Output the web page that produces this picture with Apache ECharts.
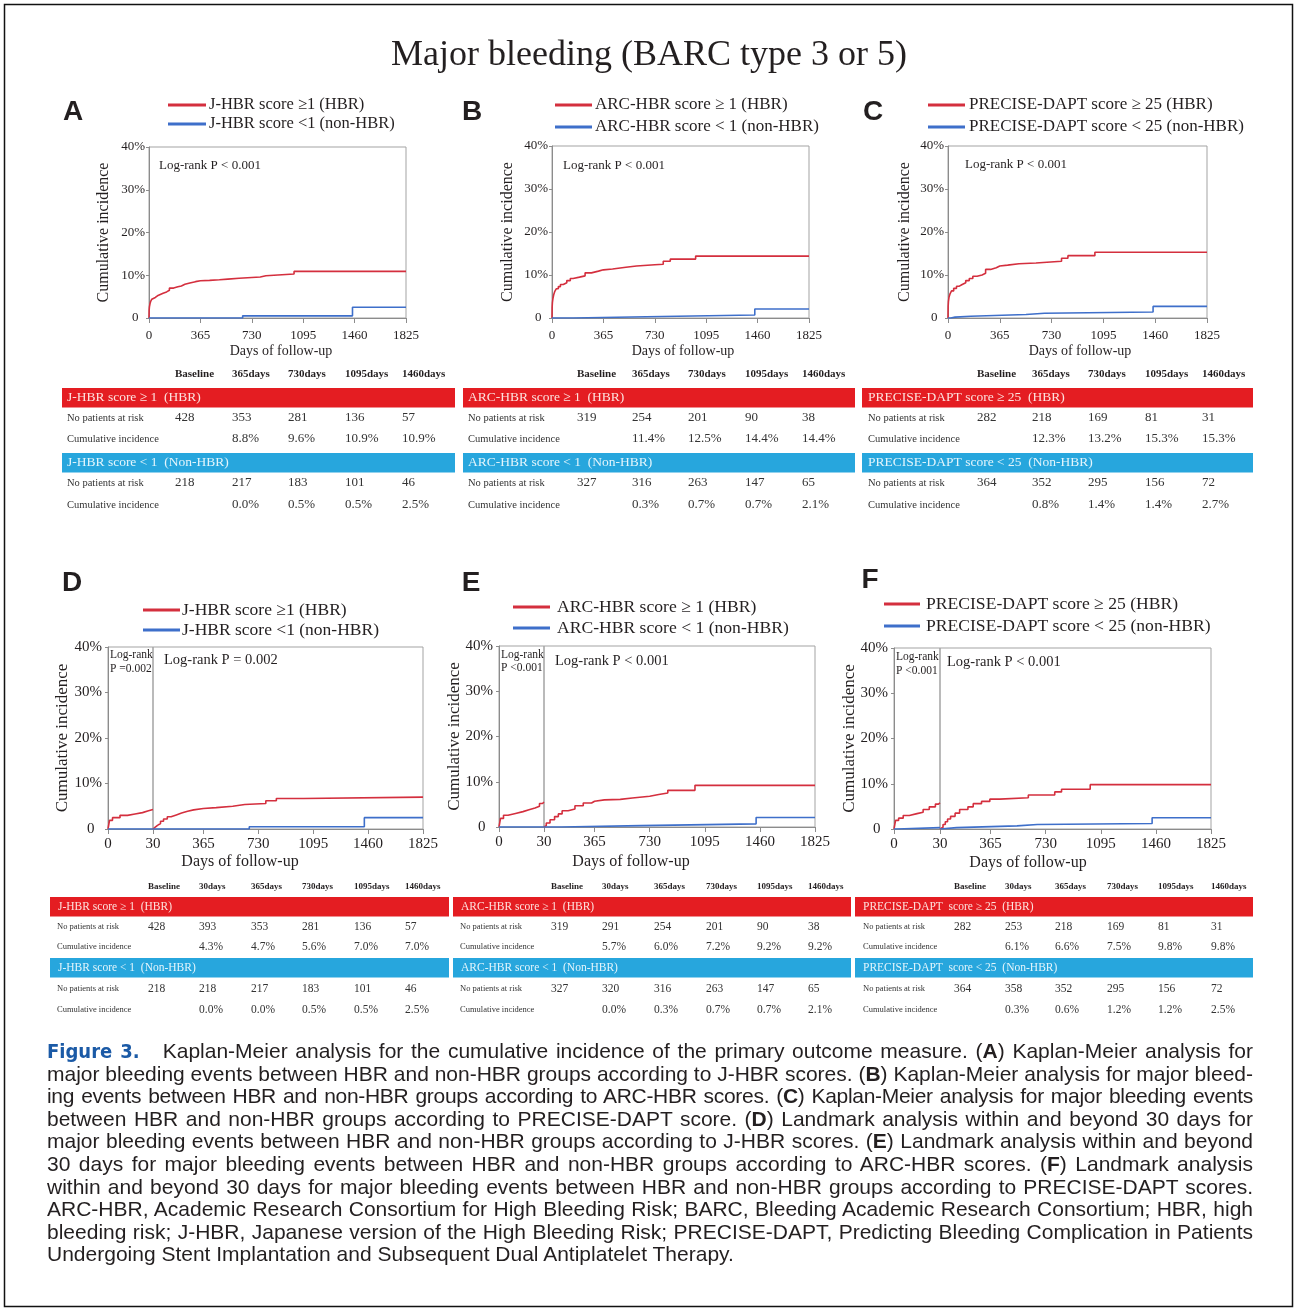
<!DOCTYPE html>
<html><head><meta charset="utf-8">
<script src="https://cdn.jsdelivr.net/npm/echarts@6/dist/echarts.min.js"></script>
<style>
html,body{margin:0;padding:0;background:#fff;}
#wrap{position:relative;width:1297px;height:1311px;overflow:hidden;}
#chart{position:absolute;left:0;top:0;width:1297px;height:1311px;}
#caption{position:absolute;left:47px;top:1040px;width:1206px;font-family:"Liberation Sans",Arial,sans-serif;font-size:21px;line-height:22.6px;color:#231f20;}
#caption div{text-align:justify;text-align-last:justify;height:22.6px;}
#caption div.tight{letter-spacing:-0.3px;word-spacing:-2px;}
#caption div.last{text-align:left;text-align-last:left;}
#caption .fig{font-family:"Liberation Sans Narrow","DejaVu Sans Condensed","Arial Narrow",sans-serif;font-weight:bold;color:#1b5aa6;font-size:20px;}
#caption b{font-weight:bold;}
</style></head>
<body>
<div id="wrap">
<div id="chart"></div>
<div id="caption">
<div><span class="fig">Figure 3.</span>&nbsp;&nbsp; Kaplan-Meier analysis for the cumulative incidence of the primary outcome measure. (<b>A</b>) Kaplan-Meier analysis for</div>
<div>major bleeding events between HBR and non-HBR groups according to J-HBR scores. (<b>B</b>) Kaplan-Meier analysis for major bleed-</div>
<div class="tight">ing events between HBR and non-HBR groups according to ARC-HBR scores. (<b>C</b>) Kaplan-Meier analysis for major bleeding events</div>
<div>between HBR and non-HBR groups according to PRECISE-DAPT score. (<b>D</b>) Landmark analysis within and beyond 30 days for</div>
<div>major bleeding events between HBR and non-HBR groups according to J-HBR scores. (<b>E</b>) Landmark analysis within and beyond</div>
<div>30 days for major bleeding events between HBR and non-HBR groups according to ARC-HBR scores. (<b>F</b>) Landmark analysis</div>
<div>within and beyond 30 days for major bleeding events between HBR and non-HBR groups according to PRECISE-DAPT scores.</div>
<div>ARC-HBR, Academic Research Consortium for High Bleeding Risk; BARC, Bleeding Academic Research Consortium; HBR, high</div>
<div>bleeding risk; J-HBR, Japanese version of the High Bleeding Risk; PRECISE-DAPT, Predicting Bleeding Complication in Patients</div>
<div class="last">Undergoing Stent Implantation and Subsequent Dual Antiplatelet Therapy.</div>
</div>
</div>
<script>
// ---------------- DATA ----------------
const TITLE = 'Major bleeding (BARC type 3 or 5)';
const PANEL_LETTERS = ['A','B','C','D','E','F'];
const X_TICKS_FULL = [0, 365, 730, 1095, 1460, 1825];
const X_TICKS_EARLY = [0];
const X_TICKS_LATE = [30, 365, 730, 1095, 1460, 1825];
const Y_AXIS_NAME = 'Cumulative incidence';
const X_AXIS_NAME = 'Days of follow-up';

const LEG_A = ['J-HBR score \u22651 (HBR)', 'J-HBR score <1 (non-HBR)'];
const LEG_B = ['ARC-HBR score \u2265 1 (HBR)', 'ARC-HBR score < 1 (non-HBR)'];
const LEG_C = ['PRECISE-DAPT score \u2265 25 (HBR)', 'PRECISE-DAPT score < 25 (non-HBR)'];

const P_A = 'Log-rank P < 0.001';
const P_B = 'Log-rank P < 0.001';
const P_C = 'Log-rank P < 0.001';
const P_D_EARLY = ['Log-rank', 'P =0.002'];
const P_D_LATE = 'Log-rank P = 0.002';
const P_E_EARLY = ['Log-rank', 'P <0.001'];
const P_E_LATE = 'Log-rank P < 0.001';
const P_F_EARLY = ['Log-rank', 'P <0.001'];
const P_F_LATE = 'Log-rank P < 0.001';

// Kaplan-Meier curves: [day, cumulative incidence %]
const A_HBR = [[0,0],[1,1.8],[3,2.6],[7,3.3],[12,3.9],[20,4.4],[30,4.8],[45,5.2],[60,5.5],[80,5.8],[100,6.1],[125,6.5],[145,7.0],[175,7.3],[205,7.5],[230,7.9],[255,8.2],[290,8.5],[330,8.7],[365,8.8],[430,8.95],[500,9.1],[560,9.3],[640,9.6],[790,9.9],[830,10.3],[1030,10.9],[1825,10.9]];
const A_NON = [[0,0],[665,0.5],[1445,2.5],[1825,2.5]];
const B_HBR = [[0,0],[1,2.5],[3,3.6],[7,4.6],[12,5.4],[20,6.2],[30,6.8],[45,7.3],[60,7.8],[80,8.2],[105,8.7],[130,9.2],[150,9.5],[195,9.8],[235,10.5],[280,10.9],[330,11.2],[365,11.4],[430,11.8],[525,12.1],[600,12.4],[730,12.5],[790,13.2],[840,13.7],[1020,14.4],[1825,14.4]];
const B_NON = [[0,0],[150,0.3],[670,0.7],[1440,2.1],[1825,2.1]];
const C_HBR = [[0,0],[1,2.6],[3,3.8],[7,4.8],[14,5.6],[25,6.3],[40,6.9],[60,7.4],[80,7.8],[100,8.2],[125,8.7],[150,9.2],[175,9.7],[205,10.0],[240,10.4],[265,11.3],[300,11.7],[340,12.1],[365,12.3],[420,12.6],[500,12.8],[620,13.2],[800,13.9],[845,14.5],[1035,15.3],[1825,15.3]];
const C_NON = [[0,0],[20,0.2],[50,0.4],[160,0.8],[550,1.1],[680,1.4],[1445,2.7],[1825,2.7]];

const D_HBR_EARLY = [[0,0],[1,1.9],[3,2.5],[8,3.0],[13,3.3],[18,3.6],[23,4.0],[27,4.3],[30,4.3]];
const D_NON_EARLY = [[0,0],[30,0]];
const D_HBR_LATE = [[30,0],[33,0.4],[45,0.8],[60,1.2],[80,1.7],[100,2.2],[125,2.7],[150,3.1],[185,3.5],[220,3.9],[260,4.2],[300,4.5],[365,4.7],[450,5.0],[560,5.4],[640,5.6],[780,6.2],[850,6.7],[1030,7.0],[1825,7.0]];
const D_NON_LATE = [[30,0],[670,0.5],[1435,2.5],[1825,2.5]];
const E_HBR_EARLY = [[0,0],[1,1.9],[3,2.6],[6,3.0],[11,3.4],[16,3.8],[20,4.2],[24,4.6],[27,5.2],[29,5.5],[30,5.5]];
const E_NON_EARLY = [[0,0],[30,0]];
const E_HBR_LATE = [[30,0],[33,0.3],[45,0.9],[70,1.6],[100,2.3],[125,2.9],[150,3.6],[190,4.0],[235,4.7],[290,5.3],[345,5.7],[365,6.0],[430,6.1],[535,6.4],[615,6.8],[730,7.2],[790,7.5],[850,8.1],[1030,9.2],[1825,9.2]];
const E_NON_LATE = [[30,0],[145,0.3],[670,0.7],[1435,2.1],[1825,2.1]];
const F_HBR_EARLY = [[0,0],[1,1.9],[3,2.4],[6,3.0],[10,3.4],[15,3.7],[19,4.3],[23,4.9],[27,5.5],[29,5.8],[30,5.8]];
const F_NON_EARLY = [[0,0],[2,0.3],[30,0.3]];
const F_HBR_LATE = [[30,0],[33,0.4],[50,1.0],[65,1.6],[80,2.2],[100,2.8],[130,3.5],[160,4.3],[215,4.9],[250,5.6],[305,6.1],[360,6.6],[425,6.9],[615,7.5],[790,8.2],[835,8.8],[1025,9.8],[1825,9.8]];
const F_NON_LATE = [[30,0],[40,0.3],[140,0.7],[540,1.0],[675,1.2],[1435,2.5],[1825,2.5]];

// Risk tables
const COLS_TOP = ['Baseline', '365days', '730days', '1095days', '1460days'];
const COLS_LM = ['Baseline', '30days', '365days', '730days', '1095days', '1460days'];
const ROW_LABELS = ['No patients at risk', 'Cumulative incidence'];

const TA_HBR_NAME = 'J-HBR score \u2265 1  (HBR)';
const TA_HBR_RISK = [428, 353, 281, 136, 57];
const TA_HBR_INC = ['8.8%', '9.6%', '10.9%', '10.9%'];
const TA_NON_NAME = 'J-HBR score < 1  (Non-HBR)';
const TA_NON_RISK = [218, 217, 183, 101, 46];
const TA_NON_INC = ['0.0%', '0.5%', '0.5%', '2.5%'];

const TB_HBR_NAME = 'ARC-HBR score \u2265 1  (HBR)';
const TB_HBR_RISK = [319, 254, 201, 90, 38];
const TB_HBR_INC = ['11.4%', '12.5%', '14.4%', '14.4%'];
const TB_NON_NAME = 'ARC-HBR score < 1  (Non-HBR)';
const TB_NON_RISK = [327, 316, 263, 147, 65];
const TB_NON_INC = ['0.3%', '0.7%', '0.7%', '2.1%'];

const TC_HBR_NAME = 'PRECISE-DAPT score \u2265 25  (HBR)';
const TC_HBR_RISK = [282, 218, 169, 81, 31];
const TC_HBR_INC = ['12.3%', '13.2%', '15.3%', '15.3%'];
const TC_NON_NAME = 'PRECISE-DAPT score < 25  (Non-HBR)';
const TC_NON_RISK = [364, 352, 295, 156, 72];
const TC_NON_INC = ['0.8%', '1.4%', '1.4%', '2.7%'];

const TD_HBR_NAME = 'J-HBR score \u2265 1  (HBR)';
const TD_HBR_RISK = [428, 393, 353, 281, 136, 57];
const TD_HBR_INC = ['4.3%', '4.7%', '5.6%', '7.0%', '7.0%'];
const TD_NON_NAME = 'J-HBR score < 1  (Non-HBR)';
const TD_NON_RISK = [218, 218, 217, 183, 101, 46];
const TD_NON_INC = ['0.0%', '0.0%', '0.5%', '0.5%', '2.5%'];

const TE_HBR_NAME = 'ARC-HBR score \u2265 1  (HBR)';
const TE_HBR_RISK = [319, 291, 254, 201, 90, 38];
const TE_HBR_INC = ['5.7%', '6.0%', '7.2%', '9.2%', '9.2%'];
const TE_NON_NAME = 'ARC-HBR score < 1  (Non-HBR)';
const TE_NON_RISK = [327, 320, 316, 263, 147, 65];
const TE_NON_INC = ['0.0%', '0.3%', '0.7%', '0.7%', '2.1%'];

const TF_HBR_NAME = 'PRECISE-DAPT  score \u2265 25  (HBR)';
const TF_HBR_RISK = [282, 253, 218, 169, 81, 31];
const TF_HBR_INC = ['6.1%', '6.6%', '7.5%', '9.8%', '9.8%'];
const TF_NON_NAME = 'PRECISE-DAPT  score < 25  (Non-HBR)';
const TF_NON_RISK = [364, 358, 352, 295, 156, 72];
const TF_NON_INC = ['0.3%', '0.6%', '1.2%', '1.2%', '2.5%'];

// ---------------- RENDERING ----------------
const SERIF = '"Liberation Serif","Times New Roman",serif';
const SANS = '"Liberation Sans",Arial,sans-serif';
const RED = '#d42f3e', BLUE = '#3e6fca', AXIS = '#8c8c8c', TXT = '#231f20';
const BAND_RED = '#e41d22', BAND_BLUE = '#27a6dd';

const grids = [], xAxes = [], yAxes = [], series = [], graphics = [];

function panel(g, xmin, xmax, xt, showY, fs, xm, ym) {
  grids.push({left: g.l, top: g.t, width: g.w, height: g.h, show: true,
    borderColor: '#a3a3a3', borderWidth: 1, backgroundColor: 'rgba(0,0,0,0)'});
  const gi = grids.length - 1;
  xAxes.push({gridIndex: gi, type: 'value', min: xmin, max: xmax,
    axisLine: {show: true, onZero: false, lineStyle: {color: AXIS, width: 1}},
    axisTick: {show: true, length: 5, customValues: xt, lineStyle: {color: AXIS}},
    axisLabel: {show: true, customValues: xt, margin: xm, fontFamily: SERIF, fontSize: fs, color: TXT,
      formatter: v => String(v)},
    splitLine: {show: false}});
  yAxes.push({gridIndex: gi, type: 'value', min: 0, max: 40, interval: 10, show: showY,
    axisLine: {show: true, lineStyle: {color: AXIS}},
    axisTick: {show: true, length: 3, lineStyle: {color: AXIS}},
    axisLabel: {margin: ym, fontFamily: SERIF, fontSize: fs, color: TXT,
      formatter: v => v === 0 ? '0  ' : v + '%'},
    splitLine: {show: false}});
  return gi;
}
function curve(gi, data, color, name) {
  series.push({type: 'line', name, xAxisIndex: gi, yAxisIndex: gi, data, step: 'end',
    showSymbol: false, symbol: 'none', lineStyle: {color, width: 1.6}, itemStyle: {color},
    animation: false, silent: true, clip: true});
}
function txt(x, y, text, font, o) {
  o = o || {};
  graphics.push({type: 'text', x, y, rotation: o.rot || 0, silent: true, z: 10,
    style: {text, font, fill: o.fill || TXT, textAlign: o.align || 'left', textVerticalAlign: o.valign || 'middle'}});
}
function line(x1, y1, x2, y2, color, w) {
  graphics.push({type: 'line', silent: true, z: 10, shape: {x1, y1, x2, y2}, style: {stroke: color, lineWidth: w}});
}
function rect(x, y, w, h, fill) {
  graphics.push({type: 'rect', silent: true, z: 5, shape: {x, y, width: w, height: h}, style: {fill}});
}
function legend(names, lx1, lx2, tx, y1, y2, fs) {
  line(lx1, y1, lx2, y1, RED, 3); line(lx1, y2, lx2, y2, BLUE, 3);
  txt(tx, y1, names[0], fs + 'px ' + SERIF);
  txt(tx, y2, names[1], fs + 'px ' + SERIF);
}
function table(L, cols, hName, hRisk, hInc, nName, nRisk, nInc, F) {
  cols.forEach((c, i) => txt(L.cx[i], L.head, c, 'bold ' + F.head + 'px ' + SERIF));
  rect(L.bx, L.b1, L.bw, L.bh, BAND_RED);
  txt(L.tx, L.b1 + L.bh / 2, hName, F.band + 'px ' + SERIF, {fill: '#fde2de'});
  rect(L.bx, L.b2, L.bw, L.bh, BAND_BLUE);
  txt(L.tx, L.b2 + L.bh / 2, nName, F.band + 'px ' + SERIF, {fill: '#e3f5fc'});
  const rows = [[L.r1, hRisk, 0], [L.r2, hInc, 1], [L.r3, nRisk, 0], [L.r4, nInc, 1]];
  rows.forEach(([y, vals, k]) => {
    txt(L.lx, y, ROW_LABELS[k], F.label + 'px ' + SERIF, {fill: '#333'});
    vals.forEach((v, i) => txt(L.cx[i + k], y, String(v), F.val + 'px ' + SERIF, {fill: '#333'}));
  });
}

// Title and frame
graphics.push({type: 'rect', silent: true, shape: {x: 4.5, y: 4.5, width: 1288, height: 1302},
  style: {fill: 'none', stroke: '#111', lineWidth: 1.5}});
txt(649, 56, TITLE, '36px ' + SERIF, {align: 'center'});

// Panel letters
const LET_POS = [[73,112],[472,112],[873,112],[72,583],[471,583],[870,580]];
PANEL_LETTERS.forEach((t, i) => txt(LET_POS[i][0], LET_POS[i][1], t, 'bold 28px ' + SANS, {align: 'center'}));

// ---- Top row (A, B, C)
const topPanels = [
  {g: {l: 149, t: 147, w: 257, h: 171}, hbr: A_HBR, non: A_NON, leg: LEG_A, p: P_A, px: 159, py: 166, yn: 104, xn: 281,
   lg: [168, 206, 209, 105, 124], lf: 16.5},
  {g: {l: 552, t: 146, w: 257, h: 172}, hbr: B_HBR, non: B_NON, leg: LEG_B, p: P_B, px: 563, py: 166, yn: 508, xn: 683,
   lg: [555, 592, 595, 105, 127], lf: 17},
  {g: {l: 948, t: 146, w: 259, h: 172}, hbr: C_HBR, non: C_NON, leg: LEG_C, p: P_C, px: 965, py: 165, yn: 905, xn: 1080,
   lg: [928, 965, 969, 105, 127], lf: 17}
];
topPanels.forEach(P => {
  const gi = panel(P.g, 0, 1825, X_TICKS_FULL, true, 13, 11, 4);
  curve(gi, P.hbr, RED, P.leg[0]);
  curve(gi, P.non, BLUE, P.leg[1]);
  legend(P.leg, P.lg[0], P.lg[1], P.lg[2], P.lg[3], P.lg[4], P.lf);
  txt(P.px, P.py, P.p, '13px ' + SERIF);
  txt(P.yn, P.g.t + P.g.h / 2, Y_AXIS_NAME, '16px ' + SERIF, {align: 'center', rot: Math.PI / 2});
  txt(P.xn, 351, X_AXIS_NAME, '14px ' + SERIF, {align: 'center'});
});

// ---- Bottom row (D, E, F) landmark panels
const lmPanels = [
  {x0: 108, x30: 153, x1: 423, t: 647, b: 829, he: D_HBR_EARLY, ne: D_NON_EARLY, hl: D_HBR_LATE, nl: D_NON_LATE,
   leg: LEG_A, pe: P_D_EARLY, pl: P_D_LATE, pex: 110, pey: [655, 669], plx: 164, ply: 660, yn: 63, xn: 240, xny: 862,
   lg: [143, 180, 182, 610, 630], lf: 17.5},
  {x0: 499, x30: 544, x1: 815, t: 646, b: 827, he: E_HBR_EARLY, ne: E_NON_EARLY, hl: E_HBR_LATE, nl: E_NON_LATE,
   leg: LEG_B, pe: P_E_EARLY, pl: P_E_LATE, pex: 501, pey: [655, 668], plx: 555, ply: 661, yn: 455, xn: 631, xny: 862,
   lg: [513, 550, 557, 607, 628], lf: 17.6},
  {x0: 894, x30: 940, x1: 1211, t: 648, b: 829, he: F_HBR_EARLY, ne: F_NON_EARLY, hl: F_HBR_LATE, nl: F_NON_LATE,
   leg: LEG_C, pe: P_F_EARLY, pl: P_F_LATE, pex: 896, pey: [657, 671], plx: 947, ply: 662, yn: 850, xn: 1028, xny: 863,
   lg: [884, 920, 926, 604, 626], lf: 17.6}
];
lmPanels.forEach(P => {
  const h = P.b - P.t;
  const ge = panel({l: P.x0, t: P.t, w: P.x30 - P.x0, h}, 0, 30, X_TICKS_EARLY, true, 15, 8, 6);
  const gl = panel({l: P.x30, t: P.t, w: P.x1 - P.x30, h}, 30, 1825, X_TICKS_LATE, false, 15, 8, 6);
  curve(ge, P.he, RED, P.leg[0]); curve(ge, P.ne, BLUE, P.leg[1]);
  curve(gl, P.hl, RED, P.leg[0]); curve(gl, P.nl, BLUE, P.leg[1]);
  legend(P.leg, P.lg[0], P.lg[1], P.lg[2], P.lg[3], P.lg[4], P.lf);
  txt(P.pex, P.pey[0], P.pe[0], '11.5px ' + SERIF);
  txt(P.pex, P.pey[1], P.pe[1], '11.5px ' + SERIF);
  txt(P.plx, P.ply, P.pl, '14.5px ' + SERIF);
  txt(P.yn, P.t + h / 2, Y_AXIS_NAME, '17px ' + SERIF, {align: 'center', rot: Math.PI / 2});
  txt(P.xn, P.xny, X_AXIS_NAME, '16px ' + SERIF, {align: 'center'});
});

// ---- Tables
const TOPF = {head: 11, band: 13.5, label: 10.5, val: 13};
const LMF = {head: 9, band: 11.5, label: 8.5, val: 11.5};
const topRows = {head: 374, b1: 388, b2: 453, bh: 19.5, r1: 418, r2: 439, r3: 483, r4: 505};
const lmRows = {head: 887, b1: 897, b2: 958, bh: 19.5, r1: 927, r2: 947, r3: 989, r4: 1010};
table(Object.assign({bx: 62, bw: 393, tx: 67, lx: 67, cx: [175, 232, 288, 345, 402]}, topRows), COLS_TOP,
  TA_HBR_NAME, TA_HBR_RISK, TA_HBR_INC, TA_NON_NAME, TA_NON_RISK, TA_NON_INC, TOPF);
table(Object.assign({bx: 463, bw: 392, tx: 468, lx: 468, cx: [577, 632, 688, 745, 802]}, topRows), COLS_TOP,
  TB_HBR_NAME, TB_HBR_RISK, TB_HBR_INC, TB_NON_NAME, TB_NON_RISK, TB_NON_INC, TOPF);
table(Object.assign({bx: 862, bw: 391, tx: 868, lx: 868, cx: [977, 1032, 1088, 1145, 1202]}, topRows), COLS_TOP,
  TC_HBR_NAME, TC_HBR_RISK, TC_HBR_INC, TC_NON_NAME, TC_NON_RISK, TC_NON_INC, TOPF);
table(Object.assign({bx: 50, bw: 399, tx: 58, lx: 57, cx: [148, 199, 251, 302, 354, 405]}, lmRows), COLS_LM,
  TD_HBR_NAME, TD_HBR_RISK, TD_HBR_INC, TD_NON_NAME, TD_NON_RISK, TD_NON_INC, LMF);
table(Object.assign({bx: 453, bw: 398, tx: 461, lx: 460, cx: [551, 602, 654, 706, 757, 808]}, lmRows), COLS_LM,
  TE_HBR_NAME, TE_HBR_RISK, TE_HBR_INC, TE_NON_NAME, TE_NON_RISK, TE_NON_INC, LMF);
table(Object.assign({bx: 855, bw: 398, tx: 863, lx: 863, cx: [954, 1005, 1055, 1107, 1158, 1211]}, lmRows), COLS_LM,
  TF_HBR_NAME, TF_HBR_RISK, TF_HBR_INC, TF_NON_NAME, TF_NON_RISK, TF_NON_INC, LMF);

const chart = echarts.init(document.getElementById('chart'), null, {renderer: 'canvas'});
chart.setOption({
  animation: false,
  backgroundColor: '#fff',
  grid: grids, xAxis: xAxes, yAxis: yAxes, series,
  graphic: {elements: graphics}
});
</script>
</body></html>
